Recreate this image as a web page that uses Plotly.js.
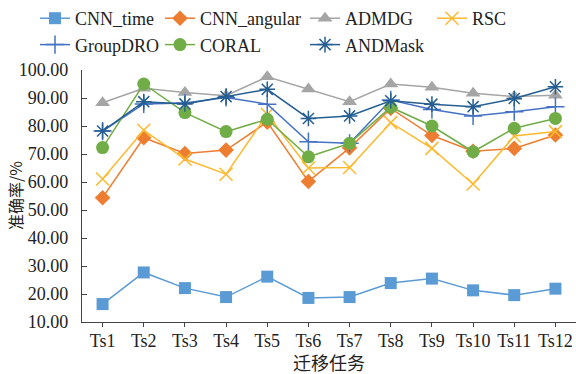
<!DOCTYPE html>
<html>
<head>
<meta charset="utf-8">
<script src="https://cdn.plot.ly/plotly-3.0.1.min.js"></script>
<style>html,body{margin:0;padding:0;background:#fff;}#chart{width:576px;height:374px;}</style>
</head>
<body>
<div id="chart"></div>
<script>
const categories = ["Ts1","Ts2","Ts3","Ts4","Ts5","Ts6","Ts7","Ts8","Ts9","Ts10","Ts11","Ts12"];
const cnnTime    = [16.4, 27.7, 22.1, 18.9, 26.2, 18.6, 18.9, 23.9, 25.5, 21.3, 19.6, 21.9];
const cnnAngular = [54.4, 75.8, 70.2, 71.4, 81.4, 60.2, 72.2, 86.3, 76.6, 71.0, 72.0, 76.8];
const admdg      = [88.3, 93.5, 92.0, 90.8, 97.6, 93.2, 88.7, 95.0, 93.8, 91.7, 90.5, 91.0];
const rsc        = [61.1, 78.5, 68.2, 62.8, 84.2, 65.0, 65.2, 81.2, 72.0, 59.3, 76.4, 78.0];
const groupDro   = [78.2, 87.9, 88.2, 90.2, 87.8, 74.4, 73.8, 89.3, 85.9, 83.6, 85.1, 86.9];
const coral      = [72.3, 95.0, 84.8, 78.0, 82.4, 69.0, 73.8, 86.7, 80.0, 70.8, 79.2, 82.7];
const andMask    = [78.2, 88.7, 87.9, 90.5, 93.1, 82.7, 83.6, 89.0, 87.8, 86.9, 89.8, 94.0];
const seriesNames = ["CNN_time","CNN_angular","ADMDG","RSC","GroupDRO","CORAL","ANDMask"];
const tickVals = [10,20,30,40,50,60,70,80,90,100];
const xTitle = '迁移任务';
const yTitle = '准确率/%';

const FONT = "Liberation Serif";
const CJK = "Noto Sans CJK SC";

function tr(name, y, color, symbol, size, legend, lw) {
  return {
    x: categories, y: y, name: name, type: 'scatter', mode: 'lines+markers',
    line: {color: color, width: 1.5},
    marker: {symbol: symbol, size: size, color: color, line: {width: lw || 0, color: color}},
    legend: legend, legendgroup: name
  };
}

const data = [
  tr(seriesNames[0], cnnTime, '#5B9BD5', 'square', 12, 'legend'),
  tr(seriesNames[1], cnnAngular, '#ED7D31', 'diamond', 12, 'legend2'),
  tr(seriesNames[2], admdg, '#A5A5A5', 'triangle-up', 13, 'legend3'),
  tr(seriesNames[3], rsc, '#FDB92E', 'x-thin-open', 13, 'legend4', 1.5),
  tr(seriesNames[4], groupDro, '#4472C4', 'cross-thin-open', 13, 'legend', 1.5),
  tr(seriesNames[5], coral, '#70AD47', 'circle', 13, 'legend2'),
  tr(seriesNames[6], andMask, '#255E91', 'asterisk-open', 13, 'legend3', 1.5)
];

function leg(xpx) {
  return {x: xpx/576, xref: 'container', y: 1.025, yref: 'container', xanchor: 'left', yanchor: 'top',
          orientation: 'v', bgcolor: 'rgba(0,0,0,0)', borderwidth: 0, tracegroupgap: 0,
          font: {family: FONT, size: 18, color: '#222'}};
}

const layout = {
  width: 576, height: 374,
  margin: {l: 82, r: 0, t: 70, b: 52, autoexpand: false},
  paper_bgcolor: '#fff', plot_bgcolor: '#fff',
  font: {family: FONT, size: 18, color: '#222'},
  showlegend: true,
  legend: leg(35), legend2: leg(160), legend3: leg(305), legend4: leg(432),
  xaxis: {
    type: 'category', range: [-0.5, 11.5],
    showline: true, linecolor: '#444', linewidth: 1.2,
    ticks: 'outside', ticklen: 4, tickcolor: '#444', tickwidth: 1,
    ticklabelstandoff: -2,
    showgrid: false, zeroline: false, automargin: false,
    tickfont: {family: FONT, size: 18, color: '#222'}
  },
  yaxis: {
    range: [10, 100], tickmode: 'array', tickvals: tickVals, tickformat: '.2f',
    showline: true, linecolor: '#444', linewidth: 1.2,
    ticks: 'inside', ticklen: 5, tickcolor: '#444', tickwidth: 1,
    ticklabelstandoff: 9,
    showgrid: false, zeroline: false, automargin: false,
    tickfont: {family: FONT, size: 18, color: '#222'}
  },
  annotations: [
    {text: xTitle, xref: 'paper', yref: 'paper', x: 0.5, y: -(362 - 322) / 252, xanchor: 'center', yanchor: 'middle',
     showarrow: false, font: {family: CJK, size: 18, color: '#222'}},
    {text: yTitle, xref: 'paper', yref: 'paper', x: (15 - 82) / 494, y: 0.5, xanchor: 'center', yanchor: 'middle',
     textangle: -90, showarrow: false, font: {family: CJK, size: 16, color: '#222'}}
  ]
};

Plotly.newPlot('chart', data, layout, {staticPlot: true, displayModeBar: false});
</script>
</body>
</html>
